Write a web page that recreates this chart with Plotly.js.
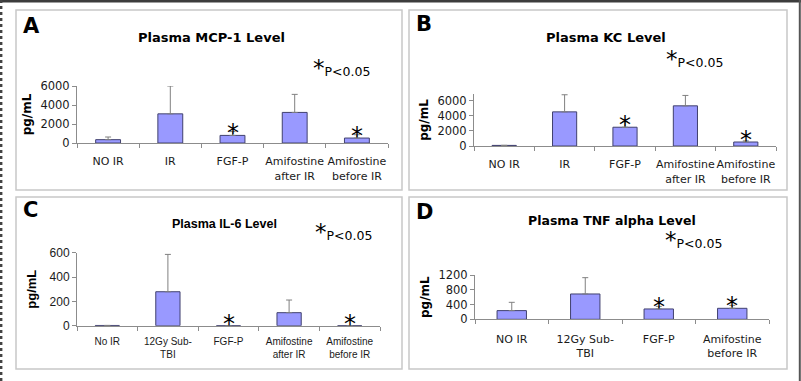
<!DOCTYPE html>
<html>
<head>
<meta charset="utf-8">
<script src="https://cdn.plot.ly/plotly-3.0.1.min.js"></script>
<style>
html,body{margin:0;padding:0;background:#fff;}
#chart{width:801px;height:381px;}
</style>
</head>
<body>
<div id="chart"></div>
<script>
// ---- data ----
const catsA = ["NO IR", "IR", "FGF-P", "Amifostine<br>after IR", "Amifostine<br>before IR"];
const mcp1 = [350, 3070, 800, 3220, 520];
const mcp1Err = [280, 2930, 400, 1900, 350];
const mcp1Sig = [false, false, true, false, true];

const catsB = ["NO IR", "IR", "FGF-P", "Amifostine<br>after IR", "Amifostine<br>before IR"];
const kc = [80, 4530, 2490, 5330, 530];
const kcErr = [0, 2270, 750, 1380, 150];
const kcSig = [false, false, true, false, true];

const catsC = ["No IR", "12Gy Sub-<br>TBI", "FGF-P", "Amifostine<br>after IR", "Amifostine<br>before IR"];
const il6 = [2, 279, 0, 107, 0];
const il6Err = [0, 307, 0, 104, 0];
const il6Sig = [false, false, true, false, true];

const catsD = ["NO IR", "12Gy Sub-<br>TBI", "FGF-P", "Amifostine<br>before IR"];
const tnf = [235, 686, 280, 298];
const tnfErr = [225, 442, 70, 80];
const tnfSig = [false, false, true, true];

const titles = ["Plasma MCP-1 Level", "Plasma KC Level", "Plasma IL-6 Level", "Plasma TNF alpha Level"];
const letters = ["A", "B", "C", "D"];
const yTicksA = [0, 2000, 4000, 6000];
const yTicksB = [0, 2000, 4000, 6000];
const yTicksC = [0, 200, 400, 600];
const yTicksD = [0, 400, 800, 1200];

// ---- helpers ----
const W = 801, H = 381;
const px = v => v / W;
const py = v => 1 - v / H;
const BAR = '#9999ff', BARLINE = '#40406e', AX = '#8c8c8c';
const DV = 'DejaVu Sans', LS = 'Liberation Sans';

function barTrace(cats, vals, errs, ax) {
  return {
    type: 'bar', x: cats, y: vals,
    xaxis: 'x' + ax, yaxis: 'y' + ax,
    marker: {color: BAR, line: {color: BARLINE, width: 1}},
    error_y: {type: 'data', array: errs, arrayminus: errs.map(() => 0), symmetric: false,
              color: '#808080', thickness: 1, width: 3},
    hoverinfo: 'skip', showlegend: false
  };
}

const data = [
  barTrace(catsA, mcp1, mcp1Err, ''),
  barTrace(catsB, kc, kcErr, '2'),
  barTrace(catsC, il6, il6Err, '3'),
  barTrace(catsD, tnf, tnfErr, '4')
];

function xax(dom, font, anchor, standoff) {
  return {domain: dom, anchor: anchor, type: 'category', showline: true, linecolor: AX, linewidth: 1,
    ticks: 'outside', tickson: 'boundaries', ticklen: 4, tickcolor: AX, tickangle: 0,
    ticklabelstandoff: standoff,
    showgrid: false, zeroline: false, fixedrange: true, automargin: false,
    tickfont: font};
}
function yax(dom, range, tv, font, tfont, standoff, anchor) {
  return {domain: dom, anchor: anchor, range: range, tickvals: tv, ticktext: tv.map(String),
    showline: true, linecolor: AX, linewidth: 1, ticks: 'outside', ticklen: 4, tickcolor: AX,
    showgrid: false, zeroline: false, fixedrange: true, automargin: false, tickfont: font,
    title: {text: '<b>pg/mL</b>', font: tfont, standoff: standoff}};
}

const tfDV = {family: DV, size: 11, color: '#1a1a1a'};
const tfLS = {family: LS, size: 10, color: '#1a1a1a'};
const yfDV = {family: DV, size: 11.5, color: '#1a1a1a'};
const yfLS = {family: LS, size: 12, color: '#1a1a1a'};
const ytDV = {family: DV, size: 12, color: '#000'};
const ytLS = {family: LS, size: 13, color: '#000'};

const layout = {
  width: W, height: H,
  margin: {l: 0, r: 0, t: 0, b: 0},
  paper_bgcolor: '#fff', plot_bgcolor: 'rgba(0,0,0,0)',
  bargap: 0.6,
  showlegend: false,
  xaxis: xax([px(77), px(388)], tfDV, 'y', 8),
  yaxis: yax([py(143), py(86)], [0, 6000], yTicksA, yfDV, ytDV, 6, 'x'),
  xaxis2: xax([px(474), px(776)], tfDV, 'y2', 8),
  yaxis2: yax([py(146), py(94)], [0, 6900], yTicksB, yfDV, ytDV, 6, 'x2'),
  xaxis3: xax([px(77), px(380)], tfLS, 'y3', 6),
  yaxis3: yax([py(325.7), py(252.7)], [0, 600], yTicksC, yfLS, ytLS, 10, 'x3'),
  xaxis4: xax([px(475), px(769)], tfDV, 'y4', 9),
  yaxis4: yax([py(319.3), py(275)], [0, 1200], yTicksD, yfDV, ytDV, 6, 'x4'),
  shapes: [],
  annotations: []
};

// panel frames
const frames = [[16, 10, 402, 190], [409, 10, 787, 190], [16, 197, 402, 369], [409, 197, 787, 369]];
frames.forEach(f => layout.shapes.push({type: 'rect', xref: 'paper', yref: 'paper',
  x0: px(f[0]), x1: px(f[2]), y0: py(f[3]), y1: py(f[1]),
  line: {color: '#c8c8c8', width: 1.5}, fillcolor: 'rgba(0,0,0,0)'}));
// outer image border
layout.shapes.push({type: 'rect', xref: 'paper', yref: 'paper', x0: 0, x1: 1, y0: py(2.5), y1: 1,
  line: {width: 0}, fillcolor: '#3c3c3c'});
layout.shapes.push({type: 'line', xref: 'paper', yref: 'paper', x0: px(1.2), x1: px(1.2), y0: 0, y1: 1,
  line: {color: '#444', width: 2.4, dash: 'dot'}});
layout.shapes.push({type: 'line', xref: 'paper', yref: 'paper', x0: px(799.8), x1: px(799.8), y0: 0, y1: 1,
  line: {color: '#555', width: 2}});

// letters
const letterPos = [[21, 26], [414, 24], [21, 210], [414, 212]];
letters.forEach((L, i) => layout.annotations.push({xref: 'paper', yref: 'paper',
  x: px(letterPos[i][0]), y: py(letterPos[i][1]), xanchor: 'left', yanchor: 'middle',
  text: '<b>' + L + '</b>', showarrow: false, font: {family: DV, size: 21, color: '#000'}}));

// titles
const titlePos = [[212, 37], [606, 38], [224, 224], [612, 220]];
const titleFont = [{family: DV, size: 13}, {family: DV, size: 13}, {family: LS, size: 12.5}, {family: DV, size: 12.5}];
titles.forEach((t, i) => layout.annotations.push({xref: 'paper', yref: 'paper',
  x: px(titlePos[i][0]), y: py(titlePos[i][1]), xanchor: 'center', yanchor: 'middle',
  text: '<b>' + t + '</b>', showarrow: false, font: Object.assign({color: '#000'}, titleFont[i])}));

// *P<0.05 keys
const keyPos = [[311, 83], [664, 74], [313, 247], [663, 255]];
keyPos.forEach(k => layout.annotations.push({xref: 'paper', yref: 'paper',
  x: px(k[0]), y: py(k[1]), xanchor: 'left', yanchor: 'bottom',
  text: "<span style='font-size:23px'>*</span>P&lt;0.05", showarrow: false,
  font: {family: DV, size: 12.5, color: '#000'}}));

// significance asterisks on bars
function stars(cats, vals, sig, ax) {
  cats.forEach((c, i) => {
    if (!sig[i]) return;
    layout.annotations.push({xref: 'x' + ax, yref: 'y' + ax, x: c, y: vals[i],
      xanchor: 'center', yanchor: 'bottom', yshift: -14, text: '*', showarrow: false,
      font: {family: DV, size: 24, color: '#000'}});
  });
}
stars(catsA, mcp1, mcp1Sig, '');
stars(catsB, kc, kcSig, '2');
stars(catsC, il6, il6Sig, '3');
stars(catsD, tnf, tnfSig, '4');

Plotly.newPlot('chart', data, layout, {staticPlot: true, displayModeBar: false});
</script>
</body>
</html>
